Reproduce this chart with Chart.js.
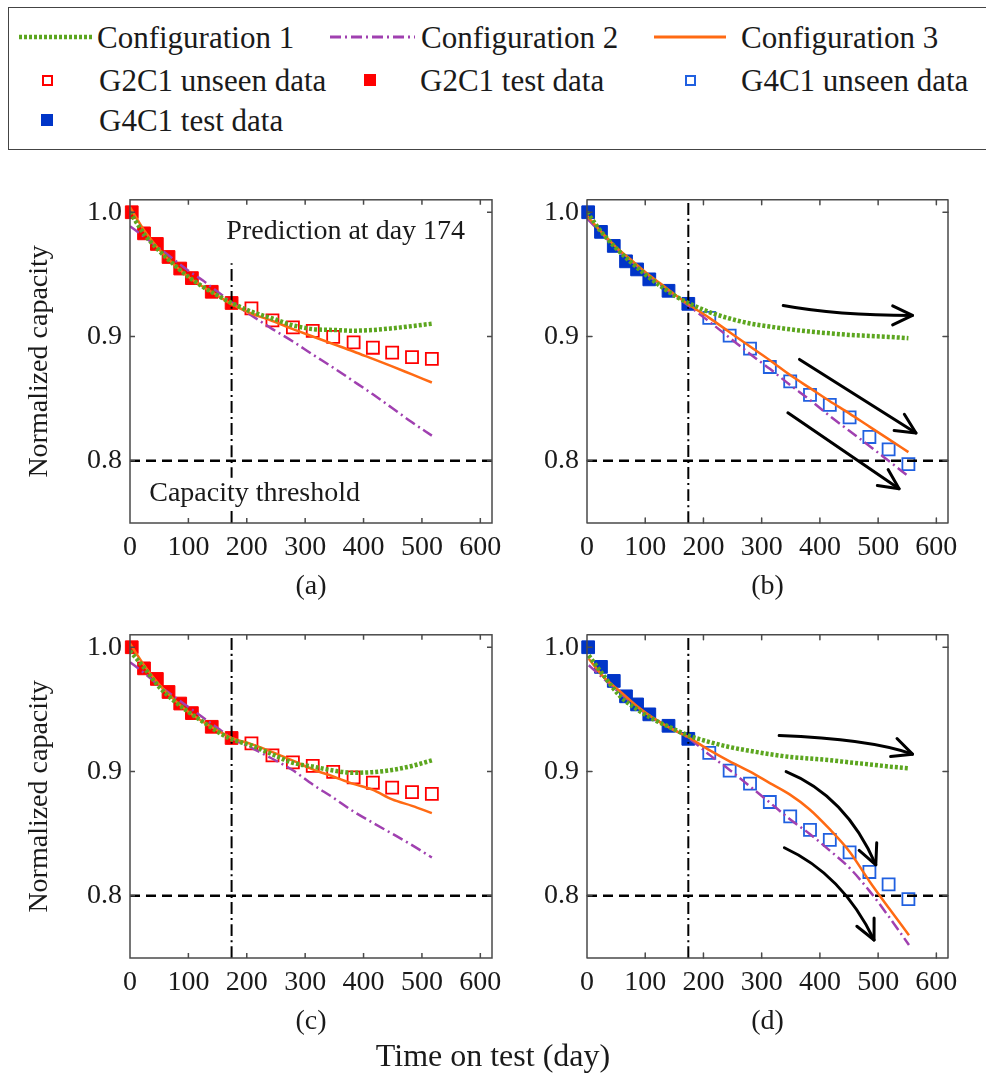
<!DOCTYPE html>
<html>
<head>
<meta charset="utf-8">
<title>Capacity prediction</title>
<script src="https://cdn.jsdelivr.net/npm/chart.js@4.4.1/dist/chart.umd.min.js"></script>
<style>
  body { margin: 0; background: #fff; }
  #page { position: relative; width: 986px; height: 1085px; overflow: hidden;
          font-family: "Liberation Serif", "Times New Roman", serif; color: #1a1a1a; }
  #legendBox { position: absolute; left: 8px; top: 7px; width: 990px; height: 143px;
               border: 1.5px solid #444; box-sizing: border-box; }
  .lg-text { position: absolute; font-size: 31px; line-height: 1; white-space: nowrap;
             transform: translateY(-50%); }
  .lg-sym { position: absolute; }
  canvas { position: absolute; }
  #xTitle { position: absolute; left: 0; width: 986px; text-align: center; top: 1039px;
            font-size: 32px; line-height: 1; }
</style>
</head>
<body>
<div id="page">
  <div id="legendBox"></div>
  <div id="legend"></div>
  <canvas id="pa" width="514" height="435" style="left:0px;top:175px"></canvas>
  <canvas id="pb" width="476" height="435" style="left:510px;top:175px"></canvas>
  <canvas id="pc" width="514" height="435" style="left:0px;top:610px"></canvas>
  <canvas id="pd" width="476" height="435" style="left:510px;top:610px"></canvas>
  <div id="xTitle">Time on test (day)</div>
</div>
<script>
// ---- axes ----
const xTicks = [0, 100, 200, 300, 400, 500, 600];
const yTicks = [0.8, 0.9, 1.0];
const xMax = 620;
const yMin = 0.75, yMax = 1.01;
const predictionDay = 174;
const thresholdCap = 0.8;
const predLineTopA = 0.959;

const seriesNames = ['Configuration 1', 'Configuration 2', 'Configuration 3',
                     'G2C1 unseen data', 'G2C1 test data', 'G4C1 unseen data', 'G4C1 test data'];
const panelTags = ['(a)', '(b)', '(c)', '(d)'];

// ---- measured data ----
const g2c1TestDays = [3, 24, 46, 66, 86, 106, 140, 174];
const g2c1TestCap = [1.000, 0.983, 0.9745, 0.964, 0.9547, 0.947, 0.936, 0.927];
const g2c1UnseenDays = [208, 244, 279, 313, 348, 383, 416, 449, 483, 517];
const g2c1UnseenCap = [0.9226, 0.913, 0.9074, 0.9046, 0.8998, 0.8953, 0.891, 0.887, 0.8834, 0.882];

const g4c1TestDays = [2, 24, 46, 67, 86, 107, 140, 174];
const g4c1TestCap = [1.000, 0.9842, 0.9729, 0.9605, 0.954, 0.946, 0.9368, 0.9263];
const g4c1UnseenDays = [210, 245, 280, 314, 349, 383, 417, 451, 485, 518, 552];
const g4c1UnseenCap = [0.915, 0.9008, 0.8903, 0.8755, 0.864, 0.853, 0.845, 0.835, 0.8192, 0.8092, 0.7974];

// ---- predictions, panel (a) ----
const daysA = [0, 25, 50, 75, 100, 125, 150, 174, 208, 244, 279, 313, 348, 383, 416, 449, 483, 517];
const cfg1A = [1.0, 0.982, 0.969, 0.958, 0.948, 0.940, 0.933, 0.927, 0.920, 0.9145, 0.909, 0.906, 0.9053, 0.9047, 0.9053, 0.9066, 0.9084, 0.9103];
const cfg2A = [0.9887, 0.980, 0.971, 0.962, 0.953, 0.945, 0.936, 0.9276, 0.917, 0.906, 0.896, 0.8855, 0.875, 0.864, 0.8535, 0.8425, 0.831, 0.8203];
const cfg3A = [1.004, 0.985, 0.970, 0.958, 0.948, 0.940, 0.933, 0.926, 0.9185, 0.9125, 0.906, 0.900, 0.894, 0.888, 0.882, 0.876, 0.8695, 0.863];

// ---- predictions, panel (b) ----
const daysB = [0, 25, 50, 75, 100, 125, 150, 174, 210, 245, 280, 314, 349, 383, 417, 451, 485, 518, 552];
const cfg1B = [1.0, 0.984, 0.971, 0.960, 0.950, 0.941, 0.933, 0.927, 0.9197, 0.9145, 0.9105, 0.908, 0.9058, 0.904, 0.9026, 0.9013, 0.9005, 0.8997, 0.8987];
const cfg2B = [0.995, 0.983, 0.971, 0.961, 0.951, 0.942, 0.933, 0.925, 0.912, 0.899, 0.886, 0.874, 0.861, 0.849, 0.836, 0.824, 0.812, 0.800, 0.7876];
const cfg3B = [0.997, 0.984, 0.972, 0.962, 0.952, 0.943, 0.934, 0.926, 0.915, 0.9035, 0.892, 0.881, 0.869, 0.8585, 0.848, 0.838, 0.8275, 0.8175, 0.807];

// ---- predictions, panel (c) ----
const daysC = [0, 25, 50, 75, 100, 125, 150, 174, 208, 243, 279, 313, 348, 381, 415, 449, 483, 517];
const cfg1C = [0.997, 0.983, 0.968, 0.957, 0.948, 0.940, 0.932, 0.926, 0.921, 0.914, 0.907, 0.904, 0.9008, 0.899, 0.8995, 0.9013, 0.9045, 0.909];
const cfg2C = [0.988, 0.979, 0.969, 0.9605, 0.952, 0.9435, 0.935, 0.927, 0.919, 0.9105, 0.901, 0.8895, 0.879, 0.8684, 0.859, 0.850, 0.8408, 0.8308];
const cfg3C = [1.003, 0.985, 0.970, 0.958, 0.948, 0.940, 0.933, 0.927, 0.922, 0.9158, 0.9087, 0.9018, 0.896, 0.8903, 0.8855, 0.8776, 0.8724, 0.8666];

// ---- predictions, panel (d) ----
const daysD = [3, 28, 57, 86, 114, 143, 174, 211, 245, 280, 314, 348, 382, 416, 451, 485, 519, 553];
const cfg1D = [0.9934, 0.9776, 0.9605, 0.950, 0.942, 0.9355, 0.929, 0.9237, 0.9197, 0.9166, 0.914, 0.9118, 0.9105, 0.9092, 0.9074, 0.9058, 0.904, 0.9026];
const cfg2D = [0.9855, 0.975, 0.963, 0.952, 0.943, 0.935, 0.927, 0.9132, 0.9013, 0.888, 0.875, 0.8618, 0.850, 0.8368, 0.8224, 0.804, 0.7829, 0.7605];
const cfg3D = [0.9908, 0.9763, 0.9645, 0.9526, 0.943, 0.935, 0.9276, 0.917, 0.9082, 0.8999, 0.8907, 0.8816, 0.8697, 0.854, 0.8355, 0.8118, 0.7898, 0.7684];

// ---- annotations (day, capacity) ----
const notesA = [
    { text: 'Prediction at day 174', day: 165, cap: 0.984, boxed: false },
    { text: 'Capacity threshold', day: 33, cap: 0.7735, boxed: true }
];
const arrowsB = [
    { from: [337, 0.925], via: [428, 0.9171], to: [559, 0.917] },
    { from: [365, 0.8816], to: [565, 0.8224] },
    { from: [345, 0.8387], to: [536, 0.7776] }
];
const arrowsD = [
    { from: [330, 0.929], via: [485, 0.9263], to: [559, 0.914] },
    { from: [342, 0.900], via: [445, 0.8803], to: [496, 0.825] },
    { from: [339, 0.8387], via: [439, 0.8171], to: [493, 0.7645] }
];

// ---- styles ----
const FONT = '"Liberation Serif", "Times New Roman", serif';
const TEXT = '#1a1a1a';
const C_GREEN = '#5CA61F';
const C_PURPLE = '#A040B0';
const C_ORANGE = '#FF6A13';
const C_RED = '#FF0000';
const C_BLUE_FILL = '#0035C8';
const C_BLUE_OPEN = '#2060E0';
const DASH_GREEN = [3, 2];
const DASH_PURPLE = [11, 4, 2, 4];

const pts = (days, caps) => days.map((d, i) => ({ x: d, y: caps[i] }));

function drawArrow(ctx, xs, ys, ar) {
    const p0 = [xs.getPixelForValue(ar.from[0]), ys.getPixelForValue(ar.from[1])];
    const p2 = [xs.getPixelForValue(ar.to[0]), ys.getPixelForValue(ar.to[1])];
    const p1 = ar.via ? [xs.getPixelForValue(ar.via[0]), ys.getPixelForValue(ar.via[1])]
                      : [(p0[0] + p2[0]) / 2, (p0[1] + p2[1]) / 2];
    ctx.strokeStyle = '#000';
    ctx.lineWidth = 3;
    ctx.lineCap = 'round';
    ctx.lineJoin = 'round';
    ctx.setLineDash([]);
    ctx.beginPath();
    ctx.moveTo(p0[0], p0[1]);
    ctx.quadraticCurveTo(p1[0], p1[1], p2[0], p2[1]);
    ctx.stroke();
    const ang = Math.atan2(p2[1] - p1[1], p2[0] - p1[0]);
    const len = 22, spread = 0.45;
    ctx.beginPath();
    ctx.moveTo(p2[0] - len * Math.cos(ang - spread), p2[1] - len * Math.sin(ang - spread));
    ctx.lineTo(p2[0], p2[1]);
    ctx.lineTo(p2[0] - len * Math.cos(ang + spread), p2[1] - len * Math.sin(ang + spread));
    ctx.stroke();
}

// frame, inner ticks, notes and arrows
const panelDecor = {
    id: 'panelDecor',
    afterDatasetsDraw(chart, args, opts) {
        const { ctx, chartArea: a, scales: { x, y } } = chart;
        ctx.save();
        ctx.font = '28px ' + FONT;
        ctx.textAlign = 'left';
        ctx.textBaseline = 'middle';
        (opts.notes || []).forEach(n => {
            const tx = x.getPixelForValue(n.day), ty = y.getPixelForValue(n.cap);
            if (n.boxed) {
                const w = ctx.measureText(n.text).width;
                ctx.fillStyle = '#fff';
                ctx.fillRect(tx - 3, ty - 16, w + 6, 32);
            }
            ctx.fillStyle = TEXT;
            ctx.fillText(n.text, tx, ty);
        });
        (opts.arrows || []).forEach(ar => drawArrow(ctx, x, y, ar));
        ctx.strokeStyle = '#4a4a4a';
        ctx.lineWidth = 1.5;
        ctx.setLineDash([]);
        ctx.strokeRect(a.left, a.top, a.width, a.height);
        ctx.beginPath();
        xTicks.forEach(v => {
            const px = x.getPixelForValue(v);
            if (px <= a.left + 1) return;
            ctx.moveTo(px, a.bottom); ctx.lineTo(px, a.bottom - 5);
            ctx.moveTo(px, a.top); ctx.lineTo(px, a.top + 5);
        });
        yTicks.forEach(v => {
            const py = y.getPixelForValue(v);
            ctx.moveTo(a.left, py); ctx.lineTo(a.left + 5, py);
            ctx.moveTo(a.right, py); ctx.lineTo(a.right - 5, py);
        });
        ctx.stroke();
        ctx.restore();
    }
};

function lineSet(data, color, width, dash) {
    return {
        type: 'line', data, borderColor: color, borderWidth: width, borderDash: dash,
        pointRadius: 0, fill: false, cubicInterpolationMode: 'monotone'
    };
}

function markerSet(data, color, filled) {
    return {
        type: 'scatter', data, pointStyle: 'rect',
        pointRadius: filled ? 9 : 8.5,
        pointBorderWidth: filled ? 1 : 1.8,
        pointBorderColor: color,
        pointBackgroundColor: filled ? color : 'rgba(255,255,255,0)',
        showLine: false, clip: false
    };
}

function makePanel(p) {
    const datasets = [
        lineSet(pts(p.days, p.c1), C_GREEN, 4.5, DASH_GREEN),
        lineSet(pts(p.days, p.c3), C_ORANGE, 2.5, []),
        lineSet(pts(p.days, p.c2), C_PURPLE, 2.5, DASH_PURPLE),
        lineSet([{ x: 0, y: thresholdCap }, { x: xMax, y: thresholdCap }], '#000', 2.5, [10, 6]),
        lineSet([{ x: predictionDay, y: yMin }, { x: predictionDay, y: p.vTop }], '#000', 2, [12, 4, 2, 4]),
        markerSet(pts(p.unseenDays, p.unseenCap), p.openColor, false),
        markerSet(pts(p.testDays, p.testCap), p.fillColor, true)
    ];
    new Chart(document.getElementById(p.id), {
        type: 'scatter',
        data: { datasets },
        options: {
            responsive: false,
            animation: false,
            devicePixelRatio: 1,
            layout: { padding: { top: 18, right: p.rightPad, left: 0, bottom: 0 } },
            plugins: {
                legend: { display: false },
                tooltip: { enabled: false },
                panelDecor: { notes: p.notes, arrows: p.arrows }
            },
            scales: {
                x: {
                    type: 'linear', min: 0, max: xMax,
                    afterBuildTicks: s => { s.ticks = xTicks.map(v => ({ value: v })); },
                    afterFit: s => { s.height = 87; },
                    grid: { display: false, drawTicks: false },
                    border: { display: false },
                    ticks: { autoSkip: false, maxRotation: 0, padding: 8, color: TEXT,
                             font: { family: FONT, size: 28 } },
                    title: { display: true, text: p.tag, color: TEXT,
                             font: { family: FONT, size: 28 }, padding: { top: 0, bottom: 7 } }
                },
                y: {
                    type: 'linear', min: yMin, max: yMax,
                    afterBuildTicks: s => { s.ticks = yTicks.map(v => ({ value: v })); },
                    afterFit: s => { s.width = p.axisWidth; },
                    grid: { display: false, drawTicks: false },
                    border: { display: false },
                    ticks: { padding: 8, color: TEXT, font: { family: FONT, size: 28 },
                             callback: v => v.toFixed(1) },
                    title: { display: p.yTitle, text: 'Normalized capacity', color: TEXT,
                             font: { family: FONT, size: 28 }, padding: { top: 23, bottom: 0 } }
                }
            }
        },
        plugins: [panelDecor]
    });
}

const g2 = { testDays: g2c1TestDays, testCap: g2c1TestCap, unseenDays: g2c1UnseenDays,
             unseenCap: g2c1UnseenCap, fillColor: C_RED, openColor: C_RED };
const g4 = { testDays: g4c1TestDays, testCap: g4c1TestCap, unseenDays: g4c1UnseenDays,
             unseenCap: g4c1UnseenCap, fillColor: C_BLUE_FILL, openColor: C_BLUE_OPEN };

makePanel({ id: 'pa', tag: panelTags[0], days: daysA, c1: cfg1A, c2: cfg2A, c3: cfg3A, ...g2,
            yTitle: true, axisWidth: 130, rightPad: 22, vTop: predLineTopA, notes: notesA, arrows: [] });
makePanel({ id: 'pb', tag: panelTags[1], days: daysB, c1: cfg1B, c2: cfg2B, c3: cfg3B, ...g4,
            yTitle: false, axisWidth: 77, rightPad: 38, vTop: yMax, notes: [], arrows: arrowsB });
makePanel({ id: 'pc', tag: panelTags[2], days: daysC, c1: cfg1C, c2: cfg2C, c3: cfg3C, ...g2,
            yTitle: true, axisWidth: 130, rightPad: 22, vTop: yMax, notes: [], arrows: [] });
makePanel({ id: 'pd', tag: panelTags[3], days: daysD, c1: cfg1D, c2: cfg2D, c3: cfg3D, ...g4,
            yTitle: false, axisWidth: 77, rightPad: 38, vTop: yMax, notes: [], arrows: arrowsD });

// ---- legend ----
const legendSymbols = [
    { kind: 'line', color: C_GREEN, width: 4.5, dash: DASH_GREEN },
    { kind: 'line', color: C_PURPLE, width: 3, dash: DASH_PURPLE },
    { kind: 'line', color: C_ORANGE, width: 3, dash: [] },
    { kind: 'open', color: C_RED },
    { kind: 'fill', color: C_RED },
    { kind: 'open', color: C_BLUE_OPEN },
    { kind: 'fill', color: C_BLUE_FILL }
];
// [symbol left, symbol right / centre, text left, row centre]
const legendSlots = [
    [19, 94, 97, 37], [330, 415, 421, 37], [654, 726, 741, 37],
    [47, 47, 99, 80], [370, 370, 420, 80], [690, 690, 741, 80],
    [47, 47, 99, 120]
];
const legendEl = document.getElementById('legend');
seriesNames.forEach((name, i) => {
    const s = legendSymbols[i];
    const [x1, x2, tx, cy] = legendSlots[i];
    let svg;
    if (s.kind === 'line') {
        svg = `<svg class="lg-sym" style="left:${x1}px;top:${cy - 5}px" width="${x2 - x1}" height="10">
                 <line x1="0" y1="5" x2="${x2 - x1}" y2="5" stroke="${s.color}" stroke-width="${s.width}"
                       stroke-dasharray="${s.dash.join(' ') || 'none'}"/></svg>`;
    } else {
        const side = s.kind === 'fill' ? 12 : 11;
        const inner = s.kind === 'fill'
            ? `<rect x="0" y="0" width="${side}" height="${side}" fill="${s.color}"/>`
            : `<rect x="1" y="1" width="${side - 2}" height="${side - 2}" fill="none" stroke="${s.color}" stroke-width="2"/>`;
        svg = `<svg class="lg-sym" style="left:${x1 - side / 2}px;top:${cy - side / 2}px" width="${side}" height="${side}">${inner}</svg>`;
    }
    legendEl.insertAdjacentHTML('beforeend', svg +
        `<div class="lg-text" style="left:${tx}px;top:${cy}px">${name}</div>`);
});
</script>
</body>
</html>
